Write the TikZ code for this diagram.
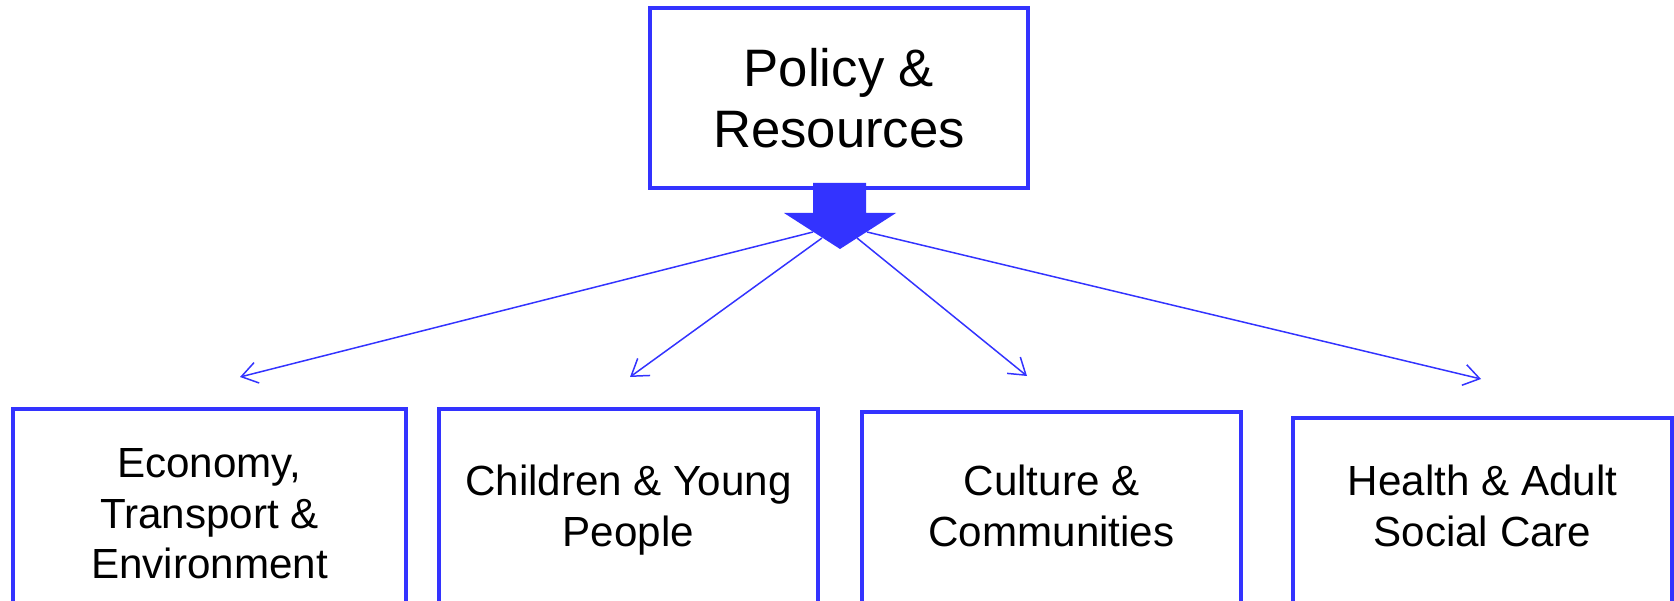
\documentclass[tikz,border=0pt]{standalone}
\usepackage{fontspec}
\setmainfont{Liberation Sans}
\usepackage{xcolor}
\usepackage{tikz}
\usetikzlibrary{arrows.meta}
\usetikzlibrary{positioning}
\definecolor{deptblue}{RGB}{51,51,255}

\begin{document}
\begin{tikzpicture}[x=0.02cm,y=-0.02cm,
    dept/.style={draw=deptblue, line width=2pt, anchor=north, minimum width=7.58cm, minimum height=5cm, align=center, font=\fontsize{24}{29}\selectfont},
    link/.style={deptblue, line width=0.85pt, -{Straight Barb[length=9pt,width=12pt]}}]
    \useasboundingbox (0,0) rectangle (1674,601);
    \clip (0,0) rectangle (1674,601);
    % top box
    \node[draw=deptblue, line width=2pt, minimum width=7.56cm, minimum height=3.6cm, align=center, font=\fontsize{30}{35}\selectfont] (policy) at (839,98) {Policy \&\\Resources};
    % the four departments, cut off at the bottom
    \node[dept, minimum width=7.86cm, text depth=23pt] (econ) at (209.5,407) {Economy,\\Transport \&\\Environment};
    \node[dept, text depth=32pt] (child) at (628.5,407) {Children \& Young\\People};
    \node[dept, text depth=35pt] (culture) at (1051.5,410) {Culture \&\\Communities};
    \node[dept, text depth=42pt] (health) at (1482.5,416) {Health \& Adult\\Social Care};
    % big arrow
    \fill[deptblue] (813,183) -- (866,183) -- (866,213) -- (896,213) -- (840,249) -- (784,213) -- (813,213) -- cycle;
    \coordinate (fromecon) at (813,232);
    \coordinate (fromchild) at (822,238);
    \coordinate (fromculture) at (857,238);
    \coordinate (fromhealth) at (867,232);
    \coordinate (toecon) at (240,377);
    \coordinate (tochild) at (630,377);
    \coordinate (toculture) at (1027,376);
    \coordinate (tohealth) at (1481,379);
    \draw[link] (fromecon) -- (toecon);
    \draw[link] (fromchild) -- (tochild);
    \draw[link] (fromculture) -- (toculture);
    \draw[link] (fromhealth) -- (tohealth);
\end{tikzpicture}
\end{document}
